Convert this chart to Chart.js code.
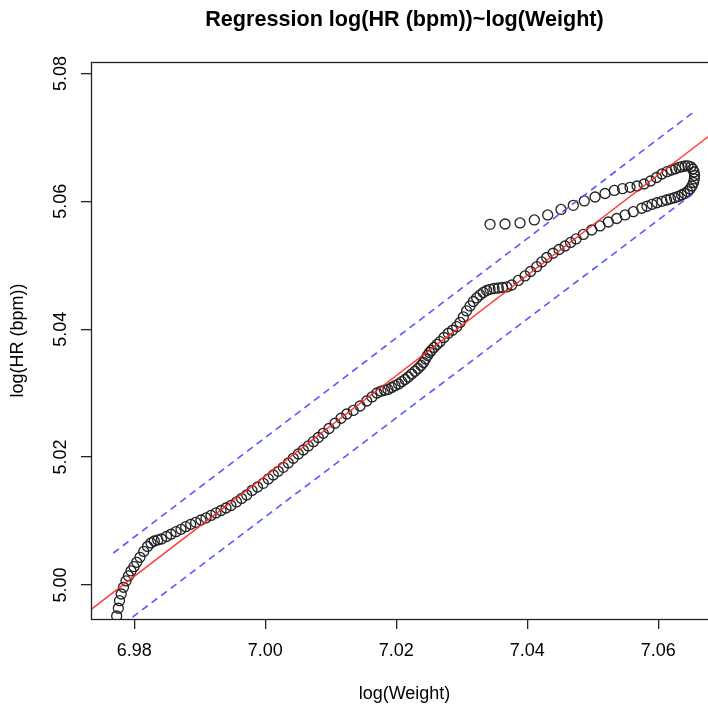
<!DOCTYPE html>
<html>
<head>
<meta charset="utf-8">
<script src="https://cdn.jsdelivr.net/npm/chart.js@4.4.0/dist/chart.umd.min.js"></script>
<style>
  html, body { margin: 0; padding: 0; overflow: hidden; background: #fff; }
  #wrap { width: 718px; height: 711px; }
</style>
</head>
<body>
<div id="wrap"><canvas id="regChart" width="718" height="711"></canvas></div>
<script>
// fitted values, in plotting order
var logWeight = [
  6.97731, 6.97756, 6.97774, 6.97800, 6.97835, 6.97873, 6.97911, 6.97950, 6.97995, 6.98037,
  6.98087, 6.98144, 6.98202, 6.98255, 6.98305, 6.98357, 6.98415, 6.98492, 6.98560, 6.98637,
  6.98713, 6.98785, 6.98861, 6.98937, 6.99018, 6.99095, 6.99171, 6.99247, 6.99324, 6.99400,
  6.99476, 6.99560, 6.99637, 6.99716, 6.99797, 6.99881, 6.99969, 7.00046, 7.00122, 7.00198,
  7.00275, 7.00351, 7.00427, 7.00504, 7.00580, 7.00656, 7.00733, 7.00809, 7.00885, 7.00972,
  7.01064, 7.01156, 7.01243, 7.01343, 7.01446, 7.01548, 7.01629, 7.01705, 7.01766, 7.01820,
  7.01873, 7.01930, 7.01980, 7.02034, 7.02082, 7.02133, 7.02183, 7.02235, 7.02285, 7.02331,
  7.02377, 7.02415, 7.02446, 7.02476, 7.02507, 7.02537, 7.02576, 7.02621, 7.02667, 7.02728,
  7.02794, 7.02858, 7.02922, 7.02973, 7.03023, 7.03072, 7.03125, 7.03176, 7.03227, 7.03278,
  7.03328, 7.03380, 7.03431, 7.03492, 7.03557, 7.03621, 7.03686, 7.03762, 7.03863, 7.03965,
  7.04049, 7.04143, 7.04220, 7.04296, 7.04392, 7.04484, 7.04576, 7.04660, 7.04744, 7.04855,
  7.04983, 7.05110, 7.05237, 7.05365, 7.05492, 7.05618, 7.05747, 7.05827, 7.05904, 7.05980,
  7.06056, 7.06125, 7.06186, 7.06247, 7.06301, 7.06354, 7.06400, 7.06446, 7.06484, 7.06514,
  7.06537, 7.06550, 7.06553, 7.06545, 7.06525, 7.06495, 7.06453, 7.06408, 7.06362, 7.06316,
  7.06263, 7.06201, 7.06133, 7.06056, 7.05972, 7.05881, 7.05782, 7.05675, 7.05568, 7.05453,
  7.05328, 7.05186, 7.05034, 7.04870, 7.04702, 7.04514, 7.04311, 7.04107, 7.03889, 7.03660,
  7.03431
];
var logHR = [
  4.99515, 4.99636, 4.99755, 4.99859, 4.99964, 5.00063, 5.00141, 5.00219, 5.00286, 5.00355,
  5.00433, 5.00524, 5.00602, 5.00657, 5.00688, 5.00704, 5.00719, 5.00758, 5.00793, 5.00833,
  5.00871, 5.00912, 5.00949, 5.00980, 5.01016, 5.01048, 5.01087, 5.01126, 5.01165, 5.01204,
  5.01243, 5.01298, 5.01353, 5.01407, 5.01478, 5.01532, 5.01590, 5.01658, 5.01720, 5.01778,
  5.01840, 5.01908, 5.01981, 5.02048, 5.02111, 5.02174, 5.02241, 5.02306, 5.02372, 5.02447,
  5.02529, 5.02607, 5.02674, 5.02729, 5.02799, 5.02877, 5.02940, 5.03002, 5.03030, 5.03045,
  5.03057, 5.03088, 5.03116, 5.03143, 5.03179, 5.03213, 5.03252, 5.03299, 5.03342, 5.03385,
  5.03432, 5.03479, 5.03534, 5.03589, 5.03636, 5.03670, 5.03714, 5.03761, 5.03805, 5.03870,
  5.03936, 5.03983, 5.04039, 5.04105, 5.04191, 5.04285, 5.04363, 5.04433, 5.04488, 5.04535,
  5.04574, 5.04605, 5.04624, 5.04636, 5.04644, 5.04652, 5.04660, 5.04691, 5.04762, 5.04832,
  5.04902, 5.04977, 5.05051, 5.05121, 5.05187, 5.05246, 5.05301, 5.05356, 5.05411, 5.05481,
  5.05551, 5.05614, 5.05676, 5.05731, 5.05786, 5.05837, 5.05891, 5.05922, 5.05953, 5.05977,
  5.06000, 5.06020, 5.06039, 5.06055, 5.06075, 5.06098, 5.06122, 5.06153, 5.06192, 5.06239,
  5.06294, 5.06349, 5.06403, 5.06458, 5.06505, 5.06539, 5.06555, 5.06552, 5.06541, 5.06529,
  5.06508, 5.06489, 5.06463, 5.06427, 5.06372, 5.06317, 5.06270, 5.06239, 5.06219, 5.06197,
  5.06169, 5.06122, 5.06067, 5.06005, 5.05937, 5.05872, 5.05786, 5.05708, 5.05661, 5.05645,
  5.05640
];

// regression line and the band around it
var fitX = [6.970, 7.075];
var fitY = [4.9935, 5.0759];
var upperX = [6.9768, 7.0652];
var upperY = [5.0050, 5.0738];
var lowerX = [6.9768, 7.0652];
var lowerY = [4.9927, 5.0611];

var xTicks = [6.98, 7.00, 7.02, 7.04, 7.06];
var yTicks = [5.00, 5.02, 5.04, 5.06, 5.08];
var xRange = [6.97339, 7.06911];
var yRange = [4.99468, 5.08178];

var chartTitle = 'Regression log(HR (bpm))~log(Weight)';

function pairs(xs, ys) {
  return xs.map(function(x, i) { return {x: x, y: ys[i]}; });
}

Chart.defaults.font.family = '"Liberation Sans", Arial, Helvetica, sans-serif';
Chart.defaults.color = '#000';

// R style: full box round the plot region and the bold main title
var rBox = {
  id: 'rBox',
  afterDraw: function(chart) {
    var a = chart.chartArea, ctx = chart.ctx;
    ctx.save();
    ctx.strokeStyle = '#222';
    ctx.lineWidth = 1.3;
    ctx.strokeRect(a.left + 0.5, a.top + 0.5, a.right - a.left, a.bottom - a.top);
    ctx.font = 'bold 21.6px "Liberation Sans", Arial, Helvetica, sans-serif';
    ctx.fillStyle = '#000';
    ctx.textAlign = 'center';
    ctx.textBaseline = 'middle';
    ctx.fillText(chartTitle, (a.left + a.right) / 2, 20);
    ctx.restore();
  }
};

var ctx = document.getElementById('regChart').getContext('2d');
var chart = new Chart(ctx, {
  type: 'scatter',
  data: {
    datasets: [
      {
        data: pairs(fitX, fitY),
        showLine: true,
        borderColor: 'rgba(255,40,40,0.9)',
        borderWidth: 1.5,
        pointRadius: 0,
        fill: false
      },
      {
        data: pairs(upperX, upperY),
        showLine: true,
        borderColor: 'rgba(70,70,255,0.9)',
        borderWidth: 1.6,
        borderDash: [7, 5],
        pointRadius: 0,
        fill: false
      },
      {
        data: pairs(lowerX, lowerY),
        showLine: true,
        borderColor: 'rgba(70,70,255,0.9)',
        borderWidth: 1.6,
        borderDash: [7, 5],
        pointRadius: 0,
        fill: false
      },
      {
        data: pairs(logWeight, logHR),
        showLine: false,
        pointStyle: 'circle',
        pointRadius: 5,
        pointBorderWidth: 1.3,
        pointBorderColor: '#222',
        pointBackgroundColor: 'rgba(0,0,0,0)'
      }
    ]
  },
  options: {
    responsive: false,
    devicePixelRatio: 1,
    animation: false,
    layout: { autoPadding: false, padding: { top: 62, right: 0, bottom: 0, left: 0 } },
    plugins: {
      legend: { display: false },
      tooltip: { enabled: false }
    },
    scales: {
      x: {
        type: 'linear',
        position: 'bottom',
        min: xRange[0],
        max: xRange[1],
        afterBuildTicks: function(s) { s.ticks = xTicks.map(function(v) { return {value: v}; }); },
        afterFit: function(s) { s.height = 92; },
        grid: { display: true, drawOnChartArea: false, drawTicks: true, tickLength: 10, color: '#222', lineWidth: 1.3 },
        border: { display: false },
        ticks: {
          font: { size: 18 },
          padding: 11,
          maxRotation: 0,
          autoSkip: false,
          callback: function(v) { return v.toFixed(2); }
        },
        title: {
          display: true,
          text: 'log(Weight)',
          font: { size: 18 },
          padding: { top: 0, bottom: 6 }
        }
      },
      y: {
        type: 'linear',
        position: 'left',
        min: yRange[0],
        max: yRange[1],
        afterBuildTicks: function(s) { s.ticks = yTicks.map(function(v) { return {value: v}; }); },
        afterFit: function(s) { s.width = 91; },
        grid: { display: true, drawOnChartArea: false, drawTicks: true, tickLength: 10, color: '#222', lineWidth: 1.3 },
        border: { display: false },
        ticks: {
          font: { size: 18 },
          padding: 2,
          minRotation: 90,
          maxRotation: 90,
          crossAlign: 'center',
          autoSkip: false,
          callback: function(v) { return v.toFixed(2); }
        },
        title: {
          display: true,
          text: 'log(HR (bpm))',
          font: { size: 18 },
          padding: { top: 7, bottom: 0 }
        }
      }
    }
  },
  plugins: [rBox]
});
</script>
</body>
</html>
